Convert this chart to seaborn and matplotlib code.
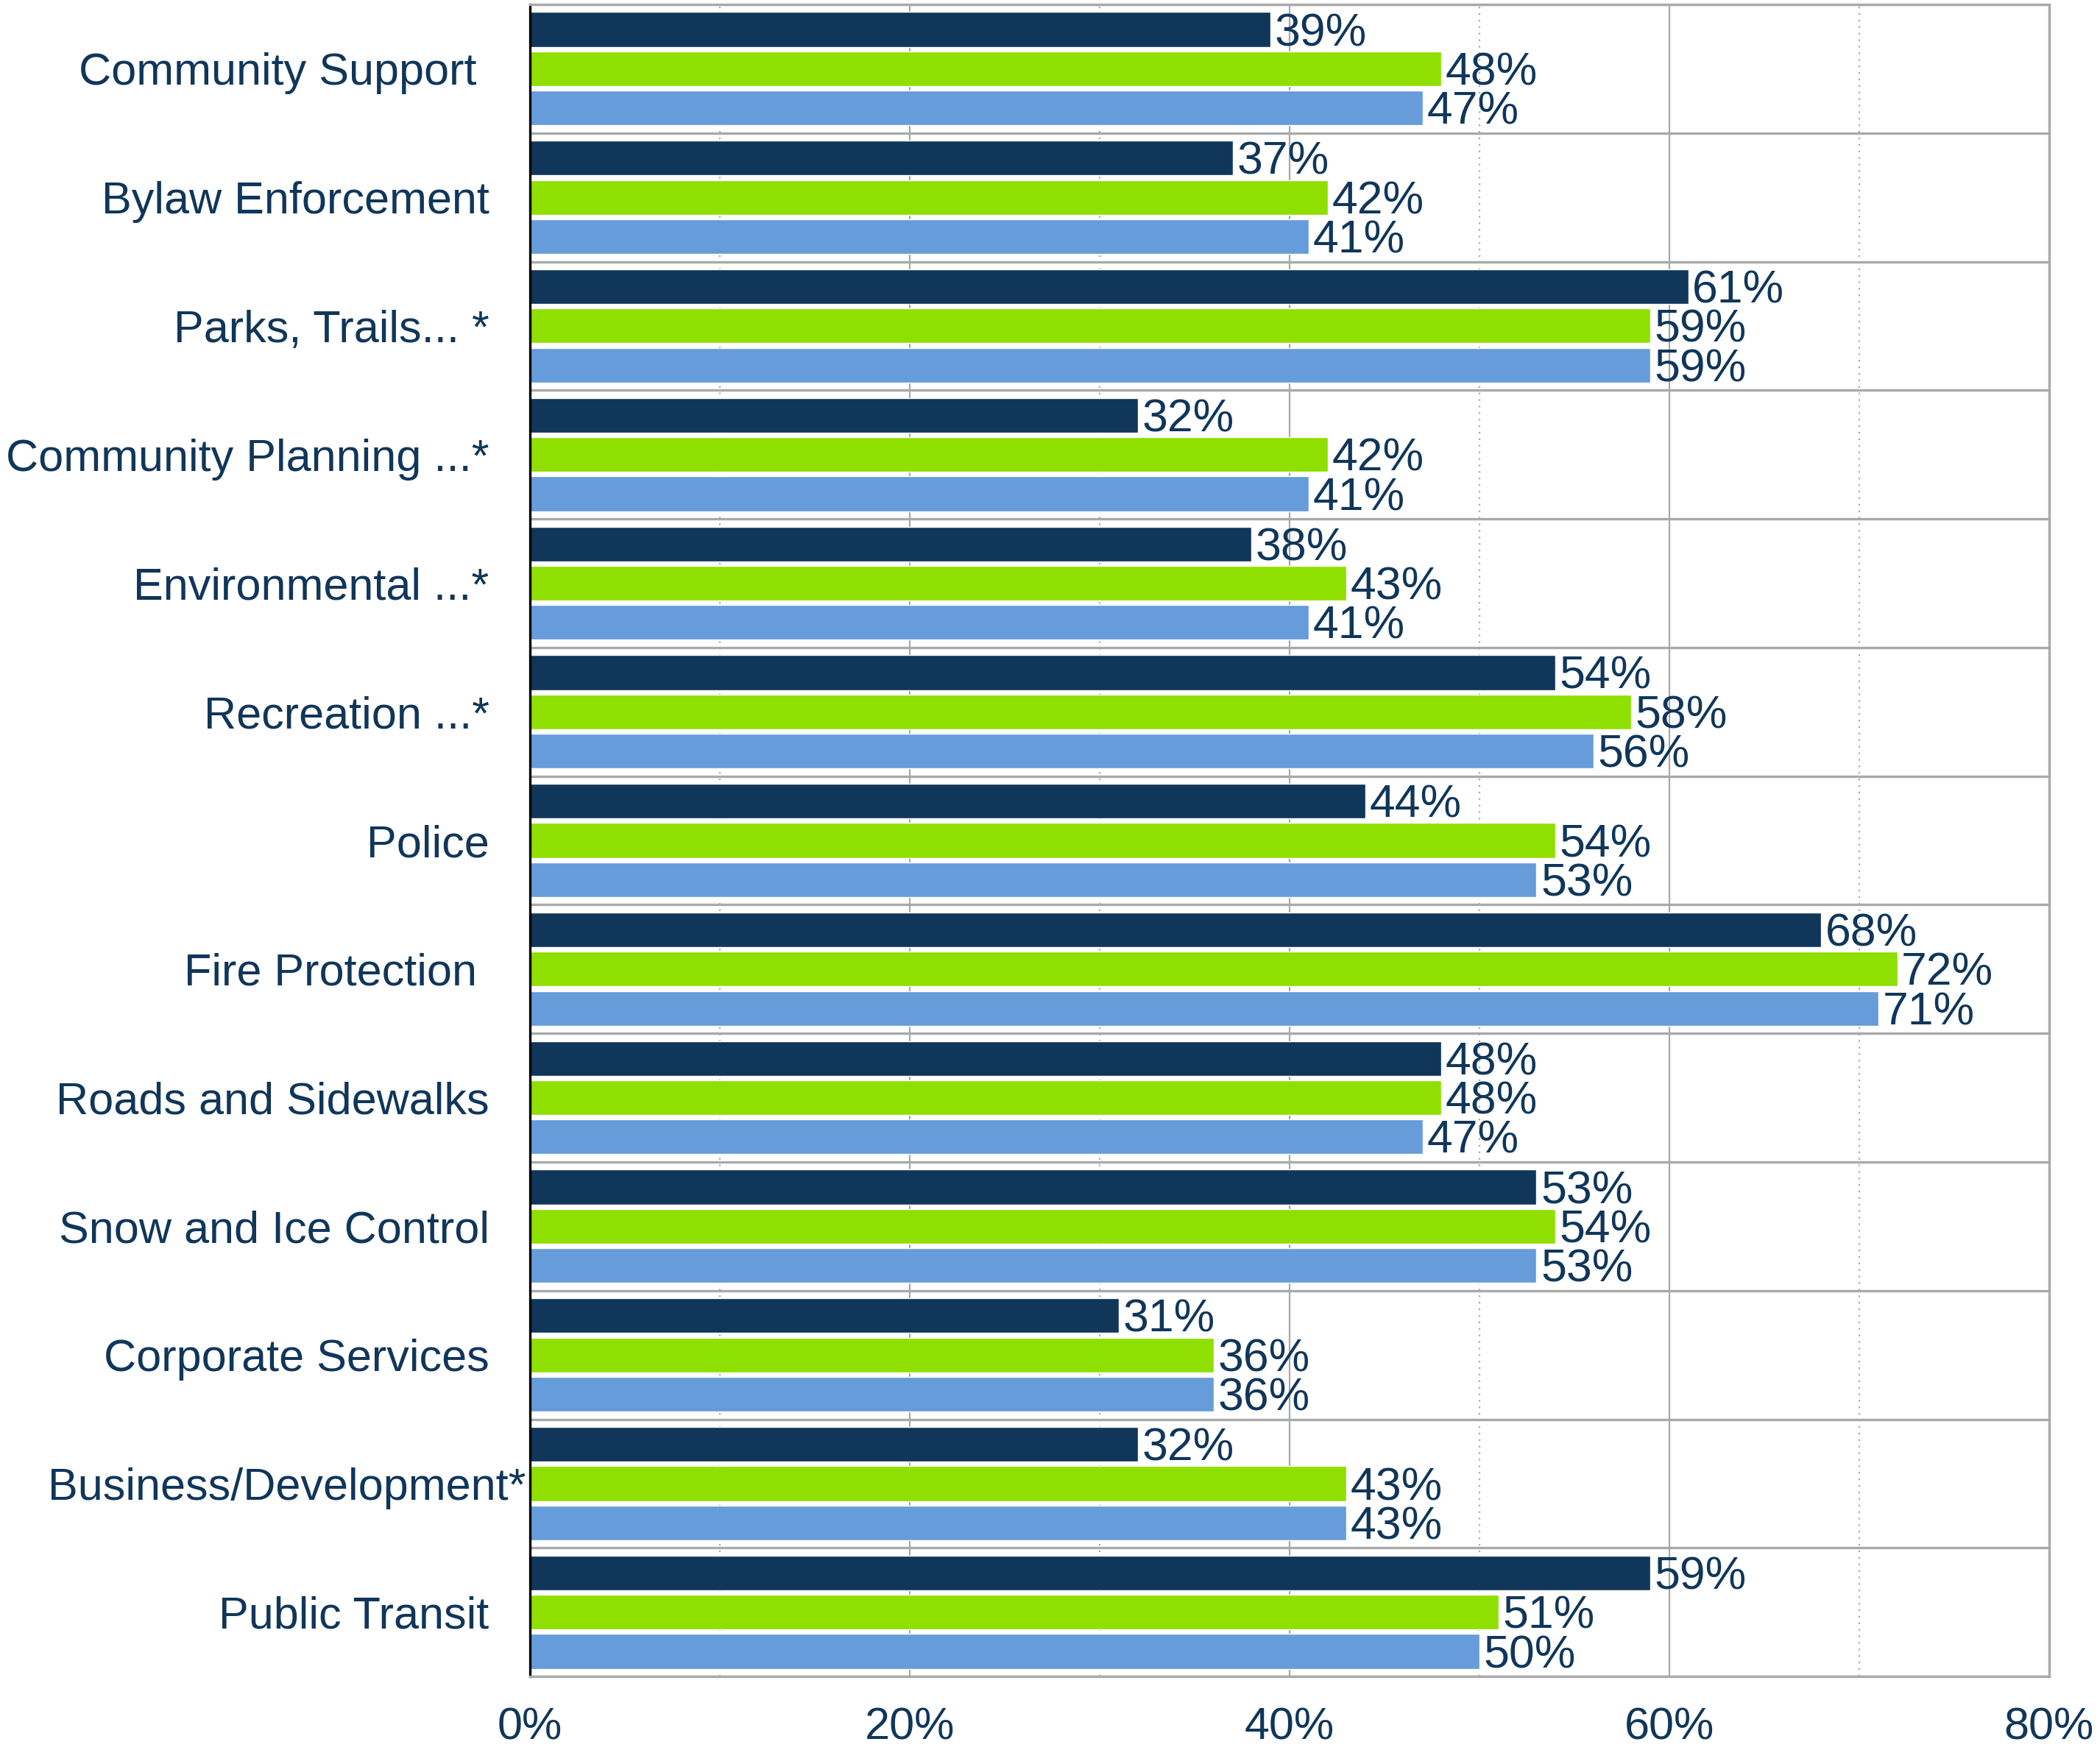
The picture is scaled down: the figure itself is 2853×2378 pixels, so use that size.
import numpy as np
import pandas as pd
import seaborn as sns
import matplotlib.pyplot as plt
from matplotlib.transforms import ScaledTranslation

# data
categories = [
    "Community Support ", "Bylaw Enforcement", "Parks, Trails... *",
    "Community Planning ...*", "Environmental ...*", "Recreation ...*",
    "Police", "Fire Protection ", "Roads and Sidewalks",
    "Snow and Ice Control", "Corporate Services", "Business/Development*",
    "Public Transit",
]
series_names = ["Wave 1", "Wave 2", "Wave 3"]
wave1 = [39, 37, 61, 32, 38, 54, 44, 68, 48, 53, 31, 32, 59]
wave2 = [48, 42, 59, 42, 43, 58, 54, 72, 48, 54, 36, 43, 51]
wave3 = [47, 41, 59, 41, 41, 56, 53, 71, 47, 53, 36, 43, 50]
x_ticks = [0, 20, 40, 60, 80]

NAVY = "#10365A"
palette = [NAVY, "#8FDF00", "#669CDA"]
GRID = "#A8AAAA"

df = pd.DataFrame({
    "service": categories * 3,
    "series": np.repeat(series_names, len(categories)),
    "pct": wave1 + wave2 + wave3,
})

sns.set_theme(style="white")
plt.rcParams["font.family"] = ["Liberation Sans", "DejaVu Sans"]

fig = plt.figure(figsize=(28.53, 23.78), dpi=100)
ax = fig.add_axes([0.2524, 0.042, 0.7234, 0.9555])

sns.barplot(data=df, y="service", x="pct", hue="series", order=categories,
            hue_order=series_names, palette=palette, orient="h",
            width=0.915, gap=0.115, saturation=1, legend=False, ax=ax)

for cont in ax.containers:
    anns = ax.bar_label(cont, labels=[f"{v:.0f}%" for v in cont.datavalues],
                        padding=4, fontsize=45, color=NAVY)
    # labels sit a touch low on the bars in the original
    for a in anns:
        a.xyann = (4, -4)

ax.set_xlim(0, 80)
ax.set_ylim(len(categories) - 0.5, -0.5)
ax.set_xticks(x_ticks)
ax.set_xticklabels([f"{t}%" for t in x_ticks])
ax.set_xticks([10, 30, 50, 70], minor=True)
ax.set_yticks(np.arange(-0.5, len(categories)), minor=True)
ax.set_xlabel("")
ax.set_ylabel("")

ax.set_axisbelow(True)
ax.grid(axis="x", which="major", color=GRID, lw=1.6, ls="-")
ax.grid(axis="x", which="minor", color=GRID, lw=1.6, ls=(0, (1, 3)))
ax.grid(axis="y", which="minor", color=GRID, lw=2.4, ls="-")
ax.grid(axis="y", which="major", visible=False)

ax.tick_params(axis="both", which="both", length=0, labelsize=44, labelcolor=NAVY)
ax.tick_params(axis="x", pad=30)
ax.tick_params(axis="y", pad=40)

for side in ["top", "right", "bottom"]:
    ax.spines[side].set_color(GRID)
    ax.spines[side].set_linewidth(2.4)
ax.spines["left"].set_color("black")
ax.spines["left"].set_linewidth(2.4)

# long label sits closer to the axis in the original
lbl = ax.get_yticklabels()[categories.index("Business/Development*")]
lbl.set_transform(lbl.get_transform() + ScaledTranslation(0.5, 0, fig.dpi_scale_trans))

fig.savefig("out.png", dpi=100)
